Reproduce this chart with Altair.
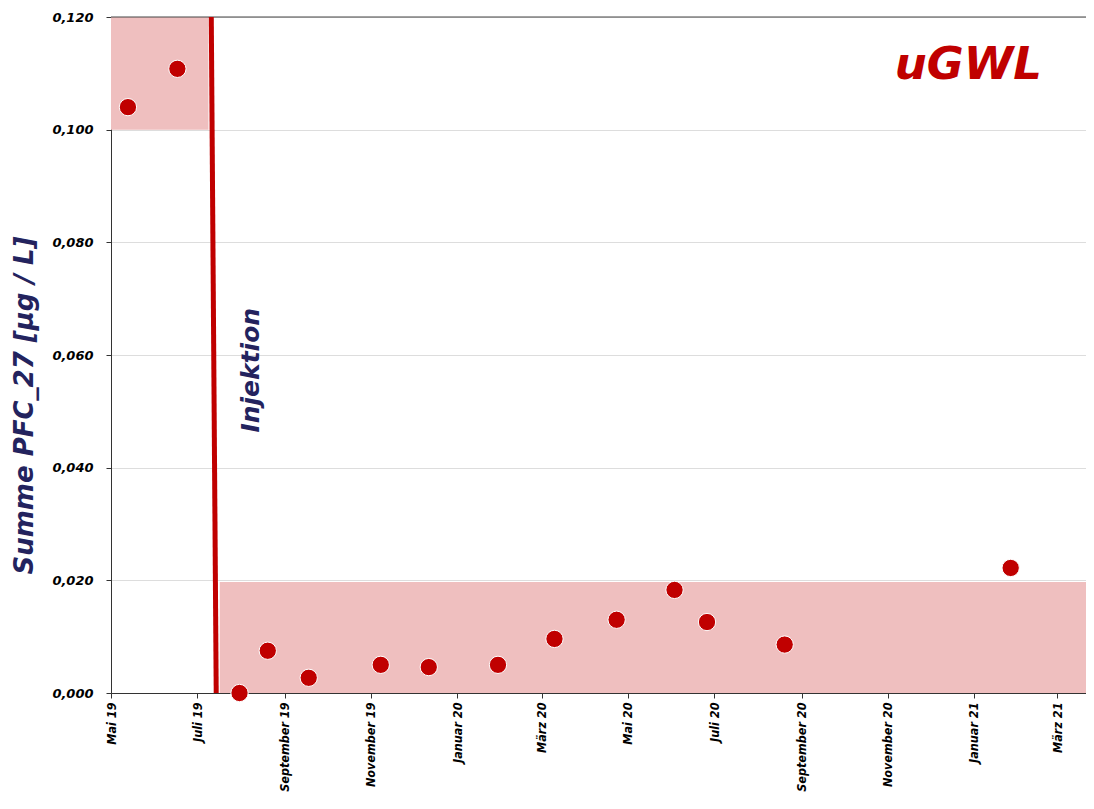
import altair as alt
import pandas as pd

# --- data ---
sample_dates = ["2019-05-13", "2019-06-17", "2019-07-31", "2019-08-20", "2019-09-18",
                "2019-11-08", "2019-12-12", "2020-01-30", "2020-03-10", "2020-04-23",
                "2020-06-03", "2020-06-26", "2020-08-20", "2021-01-27"]
pfc_values = [0.1040, 0.1108, 0.0000, 0.0075, 0.0027,
              0.0050, 0.0046, 0.0050, 0.0096, 0.0130,
              0.0183, 0.0126, 0.0086, 0.0222]

# shaded ranges (before / after injection)
band_start = ["2019-05-01", "2019-07-17"]
band_end = ["2019-07-09", "2021-03-27"]
band_low = [0.100, 0.000]
band_high = [0.120, 0.0197]

# injection line (slightly slanted)
inj_x = ["2019-07-11"]
inj_x2 = ["2019-07-14T12:00"]
inj_y = [0.120]
inj_y2 = [0.000]

month_names = ["Januar", "Februar", "März", "April", "Mai", "Juni", "Juli",
               "August", "September", "Oktober", "November", "Dezember"]
tick_years = [2019, 2019, 2019, 2019, 2020, 2020, 2020, 2020, 2020, 2020, 2021, 2021]
tick_months = [5, 7, 9, 11, 1, 3, 5, 7, 9, 11, 1, 3]
y_ticks = [0.0, 0.02, 0.04, 0.06, 0.08, 0.10, 0.12]
y_top = 0.12

RED = "#c00000"
BAND = "#efbfbf"
NAVY = "#23235e"
FONT = "DejaVu Sans"
FONT_COND = "DejaVu Sans Condensed"

pts = pd.DataFrame({"date": sample_dates, "value": pfc_values})
bands = pd.DataFrame({"start": band_start, "end": band_end, "low": band_low, "high": band_high})
inj = pd.DataFrame({"x": inj_x, "x2": inj_x2, "y": inj_y, "y2": inj_y2})
ann = pd.DataFrame({"date": ["2019-08-08"], "value": [0.0573], "label": ["Injektion"]})
logo = pd.DataFrame({"date": ["2020-12-28"], "value": [0.1115], "label": ["uGWL"]})
top = pd.DataFrame({"value": [y_top]})

xscale = alt.Scale(type="utc", domain=[alt.DateTime(year=2019, month=5, date=1, utc=True),
                                       alt.DateTime(year=2021, month=3, date=27, utc=True)])
yscale = alt.Scale(domain=[0, y_top], nice=False)

names_js = "[" + ",".join("'" + m + "'" for m in month_names) + "]"
x_axis = alt.Axis(
    values=[alt.DateTime(year=y, month=m, date=1, utc=True) for y, m in zip(tick_years, tick_months)],
    labelExpr=names_js + "[utcmonth(datum.value)] + ' ' + utcFormat(datum.value, '%y')",
    labelAngle=270, labelAlign="right", labelBaseline="middle",
    labelFont=FONT_COND, labelFontSize=12.5, labelFontWeight="bold", labelFontStyle="italic",
    labelColor="#000", labelPadding=4, tickSize=5, tickColor="#333",
    domainColor="#333", grid=False, title=None, labelOverlap=False,
)
y_axis = alt.Axis(
    values=y_ticks,
    labelExpr="replace(format(datum.value, '.3f'), '.', ',')",
    labelFont=FONT, labelFontSize=13, labelFontWeight="bold", labelFontStyle="italic",
    labelColor="#000", labelPadding=13, tickSize=5, tickColor="#333",
    domainColor="#333", grid=True, gridColor="#dddddd",
    title="Summe PFC_27 [µg / L]", titleFont=FONT, titleFontSize=26,
    titleFontWeight="bold", titleFontStyle="italic", titleColor=NAVY,
    titleAngle=270, titleX=-87, titleY=388, titleAlign="center", titleBaseline="middle",
)

rects = alt.Chart(bands).mark_rect(color=BAND, opacity=1).encode(
    x=alt.X("start:T", scale=xscale, axis=x_axis),
    x2="end:T",
    y=alt.Y("low:Q", scale=yscale, axis=y_axis),
    y2="high:Q",
)

top_border = alt.Chart(top).mark_rule(color="#444", strokeWidth=1).encode(
    y=alt.Y("value:Q", scale=yscale),
)

line = alt.Chart(inj).mark_rule(color=RED, strokeWidth=5).encode(
    x=alt.X("x:T", scale=xscale), x2="x2:T",
    y=alt.Y("y:Q", scale=yscale), y2="y2:Q",
)

points = alt.Chart(pts).mark_circle(color=RED, opacity=1, size=300, stroke="white", strokeWidth=1).encode(
    x=alt.X("date:T", scale=xscale),
    y=alt.Y("value:Q", scale=yscale),
)

inj_text = alt.Chart(ann).mark_text(
    angle=270, font=FONT, fontSize=25, fontWeight="bold", fontStyle="italic",
    color=NAVY, align="center", baseline="middle",
).encode(x=alt.X("date:T", scale=xscale), y=alt.Y("value:Q", scale=yscale), text="label:N")

logo_text = alt.Chart(logo).mark_text(
    font=FONT, fontSize=45, fontWeight="bold", fontStyle="italic",
    color=RED, align="center", baseline="middle",
).encode(x=alt.X("date:T", scale=xscale), y=alt.Y("value:Q", scale=yscale), text="label:N")

chart = alt.layer(rects, top_border, line, points, inj_text, logo_text).properties(
    width=983, height=676,
    autosize=alt.AutoSizeParams(type="none"),
    padding={"left": 103, "top": 9, "right": -8, "bottom": 103},
).configure_view(stroke=None).configure(background="white")

chart.save("out.html", embed_options={"renderer": "svg", "actions": False})
